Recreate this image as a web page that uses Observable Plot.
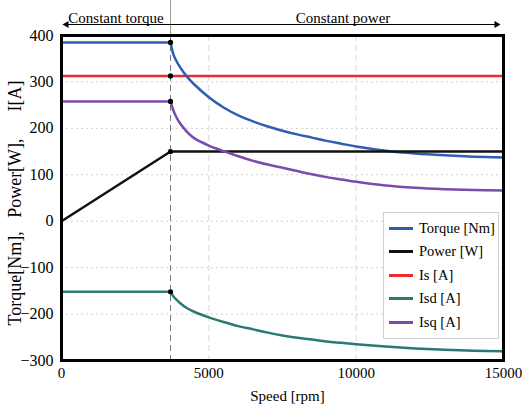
<!DOCTYPE html>
<html><head><meta charset="utf-8">
<script src="https://cdn.jsdelivr.net/npm/d3@7"></script>
<script src="https://cdn.jsdelivr.net/npm/@observablehq/plot@0.6"></script>
<style>
body{margin:0;background:#fff;}
#wrap{position:relative;width:522px;height:412px;font-family:"Liberation Serif","Times New Roman",serif;}
#wrap svg text{font-family:"Liberation Serif","Times New Roman",serif;}
#legend{position:absolute;left:383px;top:212px;width:116px;height:127px;border:1px solid #cfcfcf;background:#fff;box-sizing:border-box;}
.item{position:absolute;left:0;height:20px;display:flex;align-items:center;font-size:14.5px;color:#000;white-space:nowrap}
.sw{width:24px;height:3px;margin-left:5px;margin-right:6px}
</style></head><body><div id="wrap"></div>
<script>
const baseSpeed = 3700;
const xTicks = [0, 5000, 10000, 15000];
const yTicks = [-300, -200, -100, 0, 100, 200, 300, 400];
const seriesNames = ["Torque [Nm]", "Power [W]", "Is [A]", "Isd [A]", "Isq [A]"];
const seriesColors = ["#2f5db3", "#111111", "#ee2b2b", "#2a7a74", "#7a4aae"];

// constant torque region
const speedCT = [0, 3700];
const torqueCT = [385, 385];
const powerCT = [0, 150];
const isdCT = [-152, -152];
const isqCT = [258, 258];
// stator current magnitude (whole range)
const speedIs = [0, 15000];
const isAll = [313, 313];
// constant power region
const speedFW = [3700, 3800, 3900, 4000, 4250, 4500, 5000, 5500, 6000, 6500, 7000, 7500, 8000, 8500, 9000, 9500, 10000, 11000, 12000, 13000, 14000, 15000];
const torqueFW = [385, 359, 345, 334, 312, 295, 267, 245, 228, 215, 204, 195, 187, 180, 173, 167, 161, 152, 146, 142, 139, 137];
const powerFW = [150, 150, 150, 150, 150, 150, 150, 150, 150, 150, 150, 150, 150, 150, 150, 150, 150, 150, 150, 150, 150, 150];
const isdFW = [-152, -162, -169, -175, -187, -195, -207, -217, -226, -233, -240, -246, -251, -255, -259, -262, -265, -270, -274, -277, -279, -280];
const isqFW = [258, 238, 224, 213, 193, 179, 163, 151, 140, 130, 122, 115, 108, 101, 95, 90, 85, 77, 72, 69, 67, 66];

const rows = [];
function add(name, seg, xs, ys) { xs.forEach((x, i) => rows.push({series: name, seg: name + seg, speed: x, value: ys[i]})); }
add(seriesNames[0], "ct", speedCT, torqueCT);
add(seriesNames[0], "fw", speedFW, torqueFW);
add(seriesNames[1], "ct", speedCT, powerCT);
add(seriesNames[1], "fw", speedFW, powerFW);
add(seriesNames[2], "all", speedIs, isAll);
add(seriesNames[3], "ct", speedCT, isdCT);
add(seriesNames[3], "fw", speedFW, isdFW);
add(seriesNames[4], "ct", speedCT, isqCT);
add(seriesNames[4], "fw", speedFW, isqFW);

const basePoints = [torqueFW[0], powerFW[0], isAll[0], isdFW[0], isqFW[0]].map(v => ({speed: baseSpeed, value: v}));

const yLabel = "Torque[Nm],\u00a0\u00a0\u00a0Power[W],\u00a0\u00a0\u00a0\u00a0\u00a0\u00a0I[A]";
const serif = '"Liberation Serif","Times New Roman",serif';

const chart = Plot.plot({
  width: 522, height: 412,
  marginLeft: 61, marginRight: 19, marginTop: 35, marginBottom: 52,
  x: {domain: [0, 15000]},
  y: {domain: [-300, 400]},
  color: {domain: seriesNames, range: seriesColors},
  style: {fontFamily: serif, background: "white", color: "black"},
  marks: [
    Plot.ruleY(yTicks.filter(v => v > -300 && v < 400), {stroke: "#cfcfcf", strokeDasharray: "2,3"}),
    Plot.ruleX(xTicks.filter(v => v > 0 && v < 15000), {stroke: "#d8d8d8", strokeDasharray: "6,4"}),
    Plot.ruleX([baseSpeed], {stroke: "#777", strokeDasharray: "6,4", strokeWidth: 1}),
    Plot.ruleX([baseSpeed], {stroke: "#999", strokeWidth: 1, insetTop: -35, insetBottom: 325}),
    Plot.line(rows.filter(d => d.seg.endsWith("all") || d.seg.endsWith("ct")), {x: "speed", y: "value", z: "seg", stroke: "series", strokeWidth: 2.5}),
    Plot.line(rows.filter(d => d.seg.endsWith("fw")), {x: "speed", y: "value", z: "seg", stroke: "series", strokeWidth: 2.5, curve: "catmull-rom"}),
    Plot.dot(basePoints, {x: "speed", y: "value", r: 2.6, fill: "black"}),
    Plot.frame({stroke: "black", strokeWidth: 3}),
    Plot.axisX({ticks: xTicks, tickSize: 0, tickPadding: 7, fontSize: 15, fontFamily: serif, tickFormat: d3.format("d"), label: null}),
    Plot.axisY({ticks: yTicks, tickSize: 0, tickPadding: 8, fontSize: 16, fontFamily: serif, tickFormat: d3.format("d"), label: null}),
    Plot.text([yLabel], {frameAnchor: "left", textAnchor: "middle", lineAnchor: "middle", rotate: -90, dx: -46, dy: 5, fontSize: 18, fontFamily: serif, fill: "black"}),
    Plot.text(["Speed [rpm]"], {frameAnchor: "bottom", dy: 40, dx: 5, fontSize: 15, fontFamily: serif, fill: "black"}),
    Plot.ruleY([400], {x1: 0, x2: 15000, dy: -11, insetLeft: 4, insetRight: 6, stroke: "black", strokeWidth: 1}),
    Plot.dot([0], {x: d => d, y: 400, dy: -11, dx: 5, symbol: "triangle", rotate: -90, r: 2.6, fill: "black", stroke: "none"}),
    Plot.dot([15000], {x: d => d, y: 400, dy: -11, dx: -7, symbol: "triangle", rotate: 90, r: 2.6, fill: "black", stroke: "none"}),
    Plot.text(["Constant torque"], {x: baseSpeed / 2, frameAnchor: "top", dy: -23, fontSize: 15, fontFamily: serif, fill: "black"}),
    Plot.text(["Constant power"], {x: (baseSpeed + 15000) / 2, frameAnchor: "top", dy: -23, dx: 6, fontSize: 15, fontFamily: serif, fill: "black"})
  ]
});
const wrap = document.getElementById("wrap");
wrap.appendChild(chart);
const legend = document.createElement("div");
legend.id = "legend";
seriesNames.forEach((name, i) => {
  const it = document.createElement("div");
  it.className = "item";
  it.style.top = (5 + i * 23.6) + "px";
  const sw = document.createElement("div");
  sw.className = "sw";
  sw.style.background = seriesColors[i];
  const tx = document.createElement("span");
  tx.textContent = name;
  it.appendChild(sw); it.appendChild(tx);
  legend.appendChild(it);
});
wrap.appendChild(legend);
</script></body></html>
